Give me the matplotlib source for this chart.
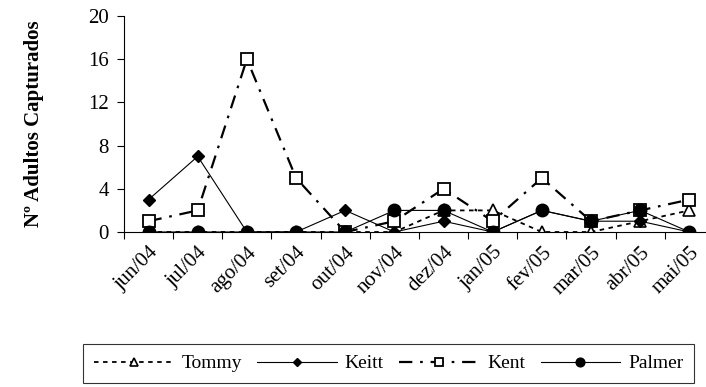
import numpy as np
import matplotlib
matplotlib.use("Agg")
import matplotlib.pyplot as plt
from matplotlib.ticker import FixedLocator, NullFormatter

plt.rcParams['font.family'] = ['Liberation Serif', 'DejaVu Serif']

# Monthly captures per cultivar
meses = ['jun/04', 'jul/04', 'ago/04', 'set/04', 'out/04', 'nov/04',
         'dez/04', 'jan/05', 'fev/05', 'mar/05', 'abr/05', 'mai/05']
tommy = [0, 0, 0, 0, 0, 0, 2, 2, 0, 0, 1, 2]
keitt = [3, 7, 0, 0, 2, 0, 1, 0, 2, 1, 1, 0]
kent = [1, 2, 16, 5, 0, 1, 4, 1, 5, 1, 2, 3]
palmer = [0, 0, 0, 0, 0, 2, 2, 0, 2, 1, 2, 0]

x = np.arange(len(meses))

fig = plt.figure(figsize=(7.06, 3.87), dpi=100)
ax = fig.add_axes([0.1756, 0.4005, 0.8357, 0.5582])

ax.plot(x, tommy, color='black', lw=1.3, dashes=(2.5, 2.5),
        marker='^', ms=8, mfc='white', mec='black', mew=1.2, label='Tommy')
ax.plot(x, keitt, color='black', lw=0.8, linestyle='-',
        marker='D', ms=6.5, mfc='black', mec='black', label='Keitt')
ax.plot(x, kent, color='black', lw=1.6, dashes=(6, 3.5, 1.2, 3.5),
        marker='s', ms=9, mfc='white', mec='black', mew=1.3, label='Kent')
ax.plot(x, palmer, color='black', lw=0.8, linestyle='-',
        marker='o', ms=9, mfc='black', mec='black', label='Palmer')

ax.set_xlim(-0.5, len(meses) - 0.5)
ax.set_ylim(0, 20)
ax.set_yticks([0, 4, 8, 12, 16, 20])
ax.set_xticks(x)
ax.set_xticklabels(meses, rotation=45, ha='right', va='top',
                   rotation_mode='anchor')
ax.xaxis.set_minor_locator(FixedLocator(np.arange(-0.5, len(meses), 1)))
ax.xaxis.set_minor_formatter(NullFormatter())
ax.tick_params(axis='x', which='major', length=0, labelsize=15, pad=8)
ax.tick_params(axis='x', which='minor', length=5, width=0.8, direction='out')
ax.tick_params(axis='y', length=5, width=0.8, labelsize=15, pad=6)

for side in ['top', 'right']:
    ax.spines[side].set_visible(False)
for side in ['left', 'bottom']:
    ax.spines[side].set_linewidth(0.8)

ax.set_ylabel('Nº Adultos Capturados', fontsize=15, fontweight='bold',
              labelpad=32)

leg = fig.legend(loc='center', bbox_to_anchor=(0.5503, 0.0607), ncol=4,
                 fontsize=14, frameon=True, fancybox=False, edgecolor='black',
                 handlelength=4.1, handletextpad=0.4, columnspacing=0.8,
                 borderpad=0.55, borderaxespad=0, markerscale=0.7)
leg.get_frame().set_linewidth(0.8)

fig.savefig('out.png', dpi=100)
